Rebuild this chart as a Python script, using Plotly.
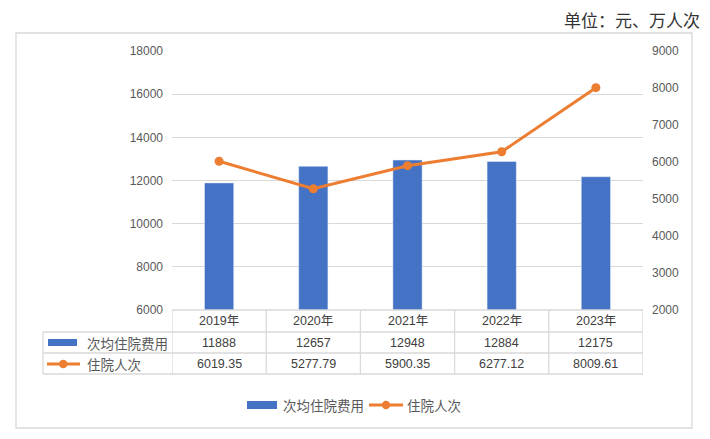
import plotly.graph_objects as go

categories = ["2019年", "2020年", "2021年", "2022年", "2023年"]
cost = [11888, 12657, 12948, 12884, 12175]
visits = [6019.35, 5277.79, 5900.35, 6277.12, 8009.61]
series_names = ["次均住院费用", "住院人次"]
unit_text = "单位：元、万人次"
left_ticks = [6000, 8000, 10000, 12000, 14000, 16000, 18000]
right_ticks = [2000, 3000, 4000, 5000, 6000, 7000, 8000, 9000]

BLUE = "#4472C4"
ORANGE = "#ED7D31"
GRID = "#D9D9D9"
TXT = "#595959"
TBL = "#404040"
NUMF = "Liberation Sans, Noto Sans CJK SC"
CJKF = "Noto Sans CJK SC, Liberation Sans"

W, H = 710, 439
L, R, T, B = 172, 67, 51, 129
pw, ph = W - L - R, H - T - B


def px(xp):
    return (xp - L) / pw


def py(yp):
    return (H - B - yp) / ph


xs = list(range(len(categories)))

fig = go.Figure()
fig.add_trace(go.Bar(x=xs, y=cost, name=series_names[0], marker_color=BLUE,
                     width=0.31, yaxis="y", showlegend=False))
fig.add_trace(go.Scatter(x=xs, y=visits, name=series_names[1], mode="lines+markers",
                         line=dict(color=ORANGE, width=3),
                         marker=dict(color=ORANGE, size=9), yaxis="y2",
                         showlegend=False))

shapes = []
ann = []

# outer border
shapes.append(dict(type="rect", xref="paper", yref="paper", x0=px(16), x1=px(692),
                   y0=py(428), y1=py(33), line=dict(color=GRID, width=1.3),
                   fillcolor="rgba(0,0,0,0)", layer="below"))

# table
row_y = [py(310), py(332), py(353), py(374)]
lab_left = px(43)
shapes.append(dict(type="line", xref="paper", yref="paper", x0=0, x1=1,
                   y0=row_y[0], y1=row_y[0], line=dict(color=GRID, width=1.3)))
for yv in row_y[1:]:
    shapes.append(dict(type="line", xref="paper", yref="paper", x0=lab_left, x1=1,
                       y0=yv, y1=yv, line=dict(color=GRID, width=1.3)))
for i in range(len(categories) + 1):
    shapes.append(dict(type="line", xref="x", yref="paper", x0=i - 0.5, x1=i - 0.5,
                       y0=row_y[0], y1=row_y[3], line=dict(color=GRID, width=1.3)))
shapes.append(dict(type="line", xref="paper", yref="paper", x0=lab_left, x1=lab_left,
                   y0=row_y[1], y1=row_y[3], line=dict(color=GRID, width=1.3)))

mid = [(row_y[k] + row_y[k + 1]) / 2 for k in range(3)]
for i, c in enumerate(categories):
    for k, t in enumerate([c, str(cost[i]), f"{visits[i]:.2f}"]):
        ann.append(dict(x=i, y=mid[k], xref="x", yref="paper", text=t, showarrow=False,
                        xanchor="center", yanchor="middle",
                        font=dict(family=NUMF, size=12.5, color=TBL)))

# table legend keys
shapes.append(dict(type="rect", xref="paper", yref="paper", x0=px(48), x1=px(77),
                   y0=py(346), y1=py(339), fillcolor=BLUE, line=dict(width=0)))
shapes.append(dict(type="line", xref="paper", yref="paper", x0=px(47), x1=px(80),
                   y0=py(364), y1=py(364), line=dict(color=ORANGE, width=3)))
shapes.append(dict(type="circle", xref="paper", yref="paper", x0=px(59), x1=px(67.5),
                   y0=py(368.2), y1=py(359.8), fillcolor=ORANGE, line=dict(width=0)))
for k in range(2):
    ann.append(dict(x=px(85), y=mid[k + 1], xref="paper", yref="paper", text=series_names[k],
                    xanchor="left", yanchor="middle", showarrow=False,
                    font=dict(family=CJKF, size=13.5, color=TXT)))

# bottom legend
ly = py(405)
shapes.append(dict(type="rect", xref="paper", yref="paper", x0=px(247), x1=px(277),
                   y0=py(409), y1=py(401), fillcolor=BLUE, line=dict(width=0)))
ann.append(dict(x=px(281), y=ly, xref="paper", yref="paper", text=series_names[0],
                xanchor="left", yanchor="middle", showarrow=False,
                font=dict(family=CJKF, size=13.5, color=TXT)))
shapes.append(dict(type="line", xref="paper", yref="paper", x0=px(369), x1=px(403),
                   y0=ly, y1=ly, line=dict(color=ORANGE, width=3)))
shapes.append(dict(type="circle", xref="paper", yref="paper", x0=px(381.8), x1=px(390.2),
                   y0=py(409.2), y1=py(400.8), fillcolor=ORANGE, line=dict(width=0)))
ann.append(dict(x=px(405), y=ly, xref="paper", yref="paper", text=series_names[1],
                xanchor="left", yanchor="middle", showarrow=False,
                font=dict(family=CJKF, size=13.5, color=TXT)))

# unit label
ann.append(dict(x=px(702), y=py(19), xref="paper", yref="paper", text=unit_text,
                xanchor="right", yanchor="middle", showarrow=False,
                font=dict(family=CJKF, size=17, color="#333333")))

fig.update_layout(
    width=W, height=H,
    margin=dict(l=L, r=R, t=T, b=B, pad=0),
    paper_bgcolor="white", plot_bgcolor="white",
    shapes=shapes, annotations=ann,
    xaxis=dict(range=[-0.5, len(categories) - 0.5], showticklabels=False,
               showgrid=False, zeroline=False, showline=False, fixedrange=True),
    yaxis=dict(range=[6000, 18000], tickvals=left_ticks, tickformat="d", showgrid=True,
               gridcolor=GRID, gridwidth=1, zeroline=False, showline=False,
               tickfont=dict(family=NUMF, size=12, color=TXT), ticklabelstandoff=8),
    yaxis2=dict(range=[2000, 9000], tickvals=right_ticks, tickformat="d",
                overlaying="y", side="right",
                showgrid=False, zeroline=False, showline=False,
                tickfont=dict(family=NUMF, size=12, color=TXT), ticklabelstandoff=8),
    showlegend=False,
)

fig.write_html("out.html")
